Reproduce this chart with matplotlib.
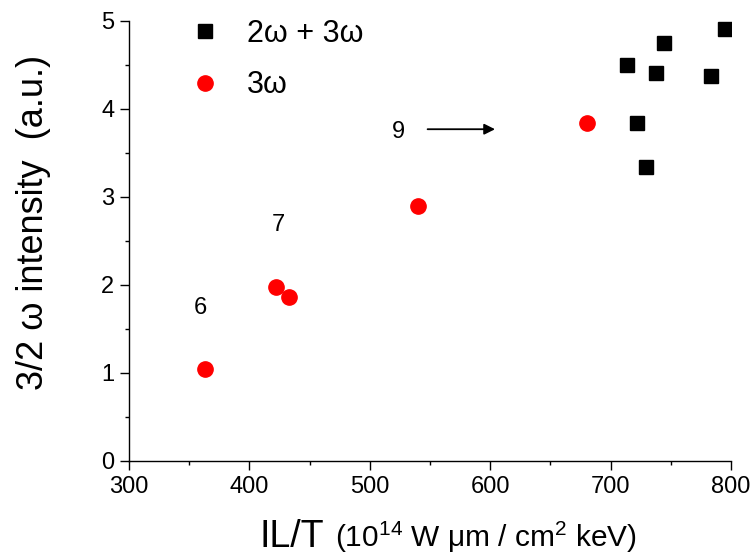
import matplotlib
matplotlib.use("Agg")
import matplotlib.pyplot as plt
from matplotlib.ticker import MultipleLocator

plt.rcParams['font.family'] = ['Liberation Sans', 'DejaVu Sans']

# data
x_3w = [363, 422, 433, 540, 680]
y_3w = [1.04, 1.98, 1.86, 2.90, 3.84]
x_23w = [714, 722, 729, 738, 744, 783, 795]
y_23w = [4.50, 3.84, 3.34, 4.41, 4.75, 4.38, 4.91]
labels = ["6", "7", "9"]
label_x = [359, 424, 524]
label_y = [1.74, 2.68, 3.74]
arrow_start = (548, 3.77)
arrow_end = (604, 3.77)
xticks = [300, 400, 500, 600, 700, 800]
yticks = [0, 1, 2, 3, 4, 5]

fig = plt.figure(figsize=(7.53, 5.55), dpi=100)
ax = fig.add_axes([0.1713, 0.1694, 0.7995, 0.7928])

ax.plot(x_23w, y_23w, 's', color='black', markersize=9.5, label='2ω + 3ω')
ax.plot(x_3w, y_3w, 'o', color='red', markersize=11, label='3ω')

for t, lx, ly in zip(labels, label_x, label_y):
    ax.text(lx, ly, t, fontsize=17, ha='center', va='center')
ax.annotate('', xy=arrow_end, xytext=arrow_start,
            arrowprops=dict(arrowstyle='-|>', color='black', lw=1.3,
                            mutation_scale=16, shrinkA=0, shrinkB=0))

ax.set_xlim(300, 800)
ax.set_ylim(0, 5)
ax.set_xticks(xticks)
ax.set_yticks(yticks)
ax.xaxis.set_minor_locator(MultipleLocator(50))
ax.yaxis.set_minor_locator(MultipleLocator(0.5))
ax.tick_params(which='major', direction='out', length=6.5, width=1, labelsize=17, pad=4)
ax.tick_params(which='minor', direction='out', length=3, width=1)
for s in ['top', 'right']:
    ax.spines[s].set_visible(False)
ax.spines['left'].set_linewidth(1)
ax.spines['bottom'].set_linewidth(1)

ax.set_ylabel('3/2 ω intensity  (a.u.)', fontsize=26)
ax.yaxis.set_label_coords(-0.13, 0.543)

fig.text(0.345, 0.014, 'IL/T', fontsize=27, ha='left', va='baseline')
fig.text(0.445, 0.014, r'(10$^{\mathregular{14}}$ W μm / cm$^{\mathregular{2}}$ keV)',
         fontsize=21.5, ha='left', va='baseline')

leg = ax.legend(loc='upper left', bbox_to_anchor=(0.101, 1.0046), frameon=False,
                fontsize=22, borderaxespad=0, borderpad=0, handlelength=1.0,
                handletextpad=0.86, labelspacing=0.7)

fig.savefig('out.png', dpi=100)
